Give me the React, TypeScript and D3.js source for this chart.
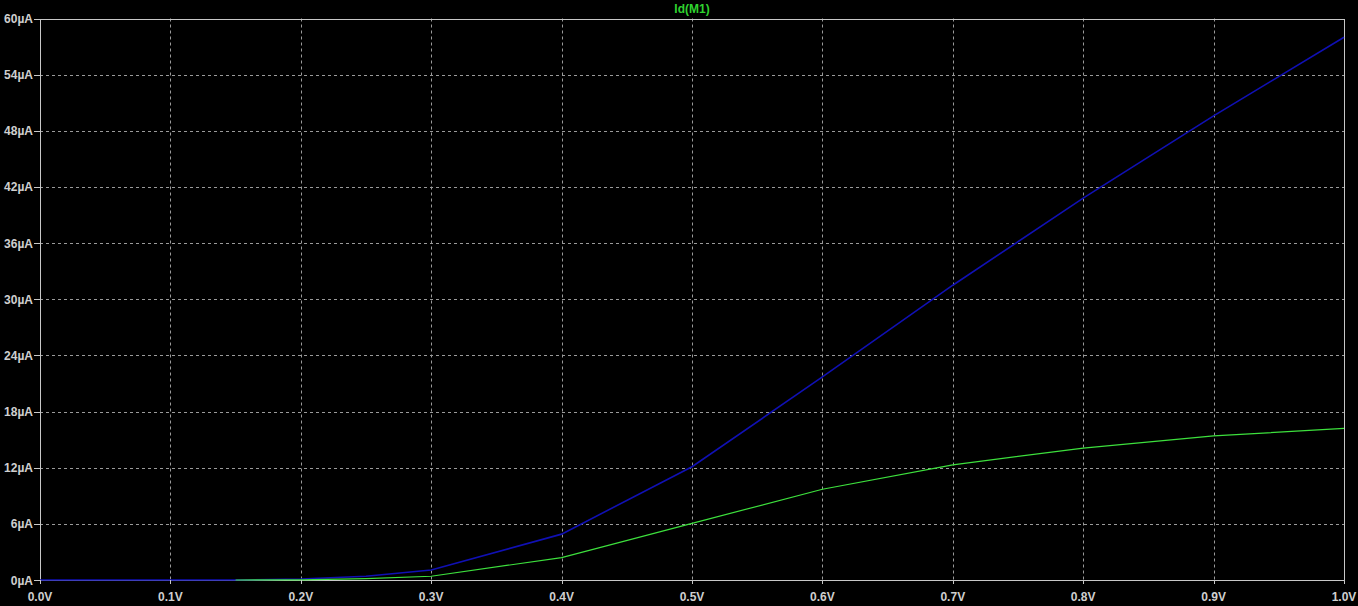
import React from "react";
import * as d3 from "d3";

const voltages = [0, 0.1, 0.15, 0.2, 0.25, 0.3, 0.4, 0.5, 0.6, 0.7, 0.8, 0.9, 1.0];
const idBlue = [0, 0, 0, 0.1, 0.4, 1.07, 4.9, 12.1, 21.7, 31.5, 40.8, 49.6, 58.0];
const idGreen = [0, 0, 0, 0.02, 0.15, 0.4, 2.4, 6.05, 9.7, 12.3, 14.1, 15.4, 16.2];
const xTicks = [0, 0.1, 0.2, 0.3, 0.4, 0.5, 0.6, 0.7, 0.8, 0.9, 1.0];
const yTicks = [0, 6, 12, 18, 24, 30, 36, 42, 48, 54, 60];

const App: React.FC = () => {
  const width = 1358;
  const height = 606;
  const margin = { top: 18.5, right: 14, bottom: 26, left: 40 };

  // escalas
  const x = d3
    .scaleLinear()
    .domain([0, 1])
    .range([margin.left, width - margin.right]);
  const y = d3
    .scaleLinear()
    .domain([0, 60])
    .range([height - margin.bottom, margin.top]);

  const line = d3
    .line<number>()
    .x((_, i) => x(voltages[i]))
    .y((d) => y(d));

  const textStyle = {
    fontFamily: "'Liberation Sans', Arial, sans-serif",
    fontSize: "12px",
    fontWeight: 700,
  } as const;

  return (
    <svg
      width={width}
      height={height}
      style={{ position: "absolute", left: 0, top: 0, background: "#000" }}
    >
      <defs>
        <clipPath id="greenClip">
          <rect x={x(0.15)} y={0} width={width} height={height} />
        </clipPath>
      </defs>
      <rect x={0} y={0} width={width} height={height} fill="#000" />
      {/* grid */}
      <g stroke="#9a9a9a" strokeWidth={1} strokeDasharray="3,3">
        {xTicks.slice(1, -1).map((t) => (
          <line
            key={"gx" + t}
            x1={Math.round(x(t)) + 0.5}
            x2={Math.round(x(t)) + 0.5}
            y1={y(60)}
            y2={y(0)}
          />
        ))}
        {yTicks.slice(1, -1).map((t) => (
          <line
            key={"gy" + t}
            x1={x(0)}
            x2={x(1)}
            y1={Math.round(y(t)) + 0.5}
            y2={Math.round(y(t)) + 0.5}
          />
        ))}
      </g>
      {/* frame */}
      <rect
        x={x(0) + 0.5}
        y={Math.round(y(60)) + 0.5}
        width={x(1) - x(0)}
        height={Math.round(y(0)) - Math.round(y(60))}
        fill="none"
        stroke="#c8c8c8"
        strokeWidth={1}
      />
      {/* curvas */}
      <path d={line(idBlue) ?? ""} fill="none" stroke="#1010b4" strokeWidth={1.6} />
      <path
        d={line(idGreen) ?? ""}
        fill="none"
        stroke="#3de03d"
        strokeWidth={1.2}
        clipPath="url(#greenClip)"
      />
      {/* eje Y */}
      <g>
        {yTicks.map((t) => (
          <g key={"ty" + t}>
            <line
              x1={x(0) - 6}
              x2={x(0)}
              y1={Math.round(y(t)) + 0.5}
              y2={Math.round(y(t)) + 0.5}
              stroke="#c8c8c8"
            />
            <text
              x={x(0) - 7}
              y={y(t) + 4.5}
              textAnchor="end"
              fill="#cfcfcf"
              style={textStyle}
            >
              {t}µA
            </text>
          </g>
        ))}
      </g>
      {/* eje X */}
      <g>
        {xTicks.map((t) => (
          <g key={"tx" + t}>
            <line
              x1={Math.round(x(t)) + 0.5}
              x2={Math.round(x(t)) + 0.5}
              y1={y(0)}
              y2={y(0) + 4}
              stroke="#c8c8c8"
            />
            <text
              x={x(t)}
              y={y(0) + 21}
              textAnchor="middle"
              fill="#cfcfcf"
              style={textStyle}
            >
              {t.toFixed(1)}V
            </text>
          </g>
        ))}
      </g>
      {/* titulo */}
      <text
        x={(x(0) + x(1)) / 2}
        y={13}
        textAnchor="middle"
        fill="#2fd22f"
        style={textStyle}
      >
        Id(M1)
      </text>
    </svg>
  );
};

export default App;
